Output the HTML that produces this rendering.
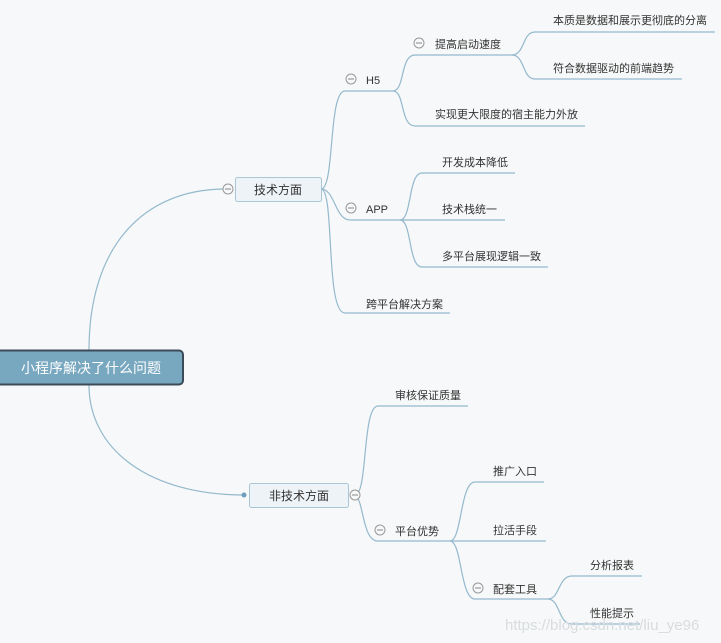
<!DOCTYPE html>
<html><head><meta charset="utf-8"><style>
html,body{margin:0;padding:0;background:#f7f8f9;}
svg{display:block;}
text{font-family:"Liberation Sans","Noto Sans CJK SC",sans-serif;font-size:11px;fill:#333;}
</style></head><body>
<svg width="721" height="643" viewBox="0 0 721 643" xmlns="http://www.w3.org/2000/svg">
<rect width="721" height="643" fill="#f7f8f9"/>
<g fill="none" stroke="#94b9cd" stroke-width="1.2">
<!-- root to 技术方面 -->
<path d="M89,350 C89,250 140,190 224,189"/>
<!-- root to 非技术方面 -->
<path d="M89,385 C89,450 150,495 244,495"/>
<!-- 技术方面 children -->
<path d="M321,189 C335,189 328,91 345,91 L393,91"/>
<path d="M321,189 C335,189 335,220 350,220 L400,220"/>
<path d="M321,189 C335,189 325,313 345,313 L450,313"/>
<!-- H5 children -->
<path d="M393,91 C405,91 400,55 415,55 L512,55"/>
<path d="M393,91 C405,91 400,126 415,126 L585,126"/>
<!-- 提高启动速度 children -->
<path d="M512,55 C525,55 522,32 535,32 L715,32"/>
<path d="M512,55 C525,55 522,79 535,79 L682,79"/>
<!-- APP children -->
<path d="M400,220 C412,220 408,173 422,173 L515,173"/>
<path d="M400,220 L505,220"/>
<path d="M400,220 C412,220 408,267 422,267 L548,267"/>
<!-- 非技术方面 children -->
<path d="M355,495 C368,495 362,406 378,406 L468,406"/>
<path d="M355,495 C364,500 362,541 378,541 L450,541"/>
<!-- 平台优势 children -->
<path d="M450,541 C462,541 460,482 475,482 L544,482"/>
<path d="M450,541 L546,541"/>
<path d="M450,541 C462,541 460,599 475,599 L548,599"/>
<!-- 配套工具 children -->
<path d="M548,599 C560,599 558,576 572,576 L642,576"/>
<path d="M548,599 C560,599 558,624 572,624 L640,624"/>
</g>
<!-- root -->
<rect x="-4" y="350.5" width="187" height="34" rx="4" fill="#78a7c0" stroke="#3b4b57" stroke-width="2"/>
<text x="91" y="373" text-anchor="middle" style="font-size:14px;fill:#fff">小程序解决了什么问题</text>
<!-- 技术方面 -->
<rect x="235.5" y="177.5" width="86" height="24" rx="2" fill="#eef3f7" stroke="#a9c6d6"/>
<text x="278" y="194" text-anchor="middle" style="font-size:12px">技术方面</text>
<!-- 非技术方面 -->
<rect x="249.5" y="483.5" width="99" height="24" rx="2" fill="#eef3f7" stroke="#a9c6d6"/>
<text x="299" y="500" text-anchor="middle" style="font-size:12px">非技术方面</text>
<circle cx="244" cy="495" r="2.5" fill="#6f9fbd"/>
<!-- collapse circles -->
<g fill="#f7f8f9" stroke="#999" stroke-width="1">
<circle cx="228" cy="189" r="5"/><circle cx="355" cy="495" r="5"/>
<circle cx="351" cy="79" r="5"/><circle cx="351" cy="208" r="5"/>
<circle cx="419" cy="43" r="5"/><circle cx="380" cy="530" r="5"/>
<circle cx="478" cy="588" r="5"/>
</g>
<g stroke="#888" stroke-width="1">
<line x1="225" y1="189" x2="231" y2="189"/><line x1="352" y1="495" x2="358" y2="495"/>
<line x1="348" y1="79" x2="354" y2="79"/><line x1="348" y1="208" x2="354" y2="208"/>
<line x1="416" y1="43" x2="422" y2="43"/><line x1="377" y1="530" x2="383" y2="530"/>
<line x1="475" y1="588" x2="481" y2="588"/>
</g>
<text x="366" y="84">H5</text>
<text x="366" y="213">APP</text>
<text x="366" y="308">跨平台解决方案</text>
<text x="435" y="48">提高启动速度</text>
<text x="435" y="118">实现更大限度的宿主能力外放</text>
<text x="553" y="24">本质是数据和展示更彻底的分离</text>
<text x="553" y="72">符合数据驱动的前端趋势</text>
<text x="442" y="166">开发成本降低</text>
<text x="442" y="213">技术栈统一</text>
<text x="442" y="260">多平台展现逻辑一致</text>
<text x="395" y="399">审核保证质量</text>
<text x="395" y="535">平台优势</text>
<text x="493" y="475">推广入口</text>
<text x="493" y="534">拉活手段</text>
<text x="493" y="593">配套工具</text>
<text x="590" y="569">分析报表</text>
<text x="590" y="617">性能提示</text>
<text x="505" y="630" style="font-size:15px;fill:#d8dcdf">https://blog.csdn.net/liu_ye96</text>
</svg>
</body></html>
